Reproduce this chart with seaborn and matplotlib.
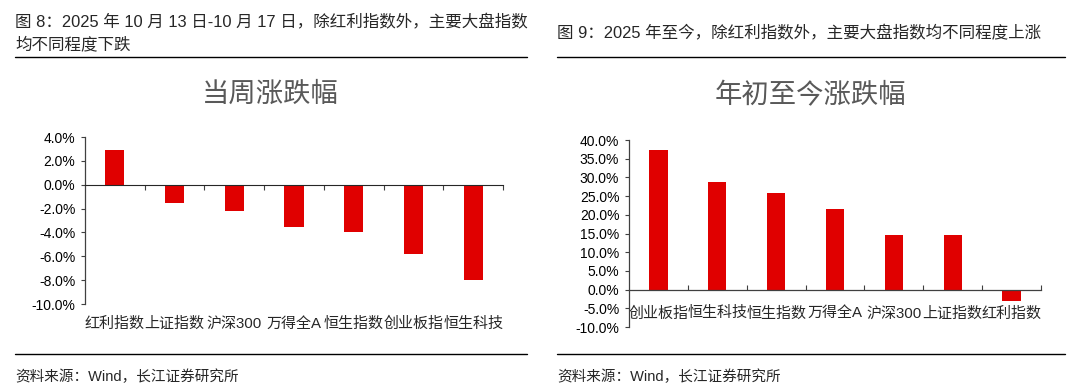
import matplotlib
matplotlib.use('Agg')
import matplotlib.pyplot as plt
import seaborn as sns
from matplotlib.lines import Line2D
from matplotlib.ticker import FuncFormatter

# 当周涨跌幅 (%)
week_names = ['红利指数', '上证指数', '沪深300', '万得全A', '恒生指数', '创业板指', '恒生科技']
week_chg = [2.9, -1.5, -2.2, -3.5, -4.0, -5.8, -8.0]

# 年初至今涨跌幅 (%)
ytd_names = ['创业板指', '恒生科技', '恒生指数', '万得全A', '沪深300', '上证指数', '红利指数']
ytd_chg = [37.2, 28.9, 25.9, 21.6, 14.7, 14.5, -3.0]

sns.set_style('white')
plt.rcParams['font.family'] = ['Liberation Sans', 'Noto Sans CJK SC', 'DejaVu Sans']
plt.rcParams['axes.unicode_minus'] = False

RED = '#E00000'
AX_COLOR = '#404040'
pct = FuncFormatter(lambda v, p: f'{v:.1f}%')

fig = plt.figure(figsize=(10.8, 3.9), dpi=100)


def style_axes(ax, n):
    for s in ['top', 'right']:
        ax.spines[s].set_visible(False)
    ax.spines['left'].set_color(AX_COLOR)
    ax.spines['left'].set_linewidth(0.9)
    ax.set_xlim(-0.5, n - 0.5)
    ax.yaxis.set_major_formatter(pct)
    ax.tick_params(axis='y', direction='out', length=3, width=0.8, color=AX_COLOR,
                   labelsize=10, labelcolor='black', left=True, pad=4)
    ax.set_xlabel('')
    ax.set_ylabel('')


# ---- left chart ----
ax1 = fig.add_axes([0.0787, 0.2205, 0.387, 0.428])
sns.barplot(x=week_names, y=week_chg, ax=ax1, color=RED, saturation=1, width=0.32,
            linewidth=0, edgecolor='none')
ax1.set_ylim(-10, 4)
ax1.set_yticks(range(-10, 5, 2))
style_axes(ax1, len(week_names))
ax1.spines['bottom'].set_visible(False)
ax1.tick_params(axis='x', length=0, labelsize=10.8, pad=9)
zero_frac = (0 - ax1.get_ylim()[0]) / (ax1.get_ylim()[1] - ax1.get_ylim()[0])
sec = ax1.secondary_xaxis(zero_frac)
sec.set_zorder(5)
sec.set_xticks([i + 0.5 for i in range(len(week_names))])
sec.set_xticklabels([])
sec.tick_params(direction='in', length=3.5, width=0.8, color=AX_COLOR)
sec.spines['bottom'].set_color('#6e6e6e')
sec.spines['bottom'].set_linewidth(0.9)

# ---- right chart ----
ax2 = fig.add_axes([0.5824, 0.1615, 0.3815, 0.4795])
sns.barplot(x=ytd_names, y=ytd_chg, ax=ax2, color=RED, saturation=1, width=0.31,
            linewidth=0, edgecolor='none')
ax2.set_ylim(-10, 40)
ax2.set_yticks(range(-10, 41, 5))
style_axes(ax2, len(ytd_names))
ax2.spines['bottom'].set_position(('data', 0))
ax2.spines['bottom'].set_color(AX_COLOR)
ax2.spines['bottom'].set_linewidth(0.9)
ax2.spines['bottom'].set_zorder(5)
ax2.set_xticks(range(len(ytd_names)))
ax2.set_xticklabels(ytd_names)
ax2.set_xticks([i + 0.5 for i in range(len(ytd_names))], minor=True)
ax2.tick_params(axis='x', which='major', length=0, labelsize=10.8, pad=12)
ax2.tick_params(axis='x', which='minor', direction='in', length=3.5, width=0.8,
                color=AX_COLOR, bottom=True)

# ---- titles inside charts ----
fig.text(0.25, 0.758, '当周涨跌幅', ha='center', va='center', fontsize=19.7, color='#595959')
fig.text(0.75, 0.753, '年初至今涨跌幅', ha='center', va='center', fontsize=19.7, color='#595959')

# ---- captions ----
fig.text(0.014, 0.944, '图 8：2025 年 10 月 13 日-10 月 17 日，除红利指数外，主要大盘指数',
         ha='left', va='center', fontsize=11.9)
fig.text(0.014, 0.887, '均不同程度下跌', ha='left', va='center', fontsize=11.9)
fig.text(0.516, 0.915, '图 9：2025 年至今，除红利指数外，主要大盘指数均不同程度上涨',
         ha='left', va='center', fontsize=11.9)

for x0, x1 in [(0.014, 0.488), (0.516, 0.986)]:
    fig.add_artist(Line2D([x0, x1], [0.853, 0.853], color='black', lw=1.0))
    fig.add_artist(Line2D([x0, x1], [0.092, 0.092], color='black', lw=1.0))

fig.text(0.014, 0.035, '资料来源：Wind，长江证券研究所', ha='left', va='center', fontsize=10.5)
fig.text(0.516, 0.035, '资料来源：Wind，长江证券研究所', ha='left', va='center', fontsize=10.5)

fig.savefig('out.png', dpi=100)
